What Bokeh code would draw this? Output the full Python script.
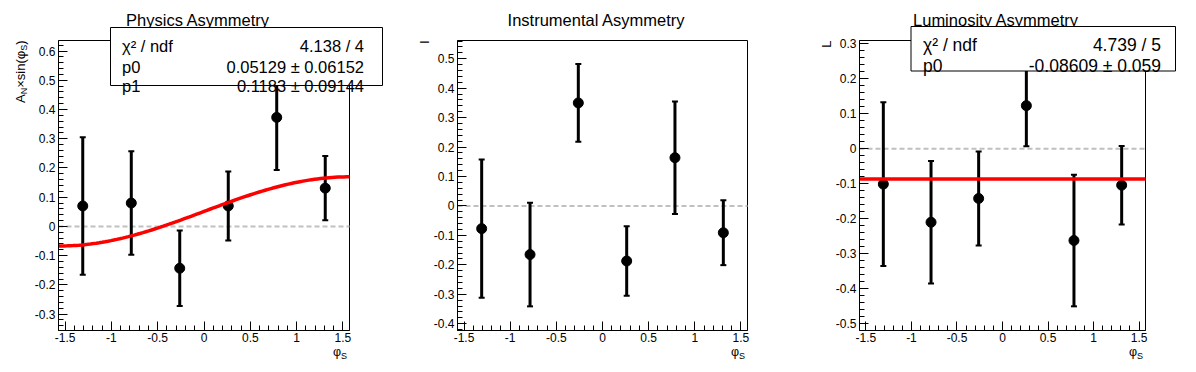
import numpy as np
from bokeh.plotting import figure
from bokeh.layouts import row
from bokeh.models import Range1d, FixedTicker, CustomJSTickFormatter, LinearAxis
from bokeh.core.properties import value
from bokeh.embed import file_html
from bokeh.resources import INLINE

# ---------------- data ----------------
phi_s = [-1.309, -0.785, -0.262, 0.262, 0.785, 1.309]

physics_asym = [0.070, 0.080, -0.143, 0.070, 0.373, 0.131]
physics_err = [0.235, 0.177, 0.129, 0.118, 0.180, 0.110]

instr_asym = [-0.077, -0.165, 0.350, -0.187, 0.164, -0.091]
instr_err = [0.235, 0.176, 0.132, 0.118, 0.191, 0.110]

lumi_asym = [-0.101, -0.210, -0.142, 0.123, -0.262, -0.104]
lumi_err = [0.234, 0.175, 0.134, 0.116, 0.188, 0.112]

physics_fit_p0 = 0.05129
physics_fit_p1 = 0.1183
lumi_fit_p0 = -0.08609

titles = ["Physics Asymmetry", "Instrumental Asymmetry", "Luminosity Asymmetry"]
y_titles = ["I", "L"]
stats_physics = [("\u03c7\u00b2 / ndf", "4.138 / 4"),
                 ("p0", "0.05129 \u00b1 0.06152"),
                 ("p1", "0.1183 \u00b1 0.09144")]
stats_lumi = [("\u03c7\u00b2 / ndf", "4.739 / 5"),
              ("p0", "-0.08609 \u00b1 0.059")]

x_major_ticks = [-1.5, -1.0, -0.5, 0.0, 0.5, 1.0, 1.5]
physics_y_ticks = [-0.3, -0.2, -0.1, 0.0, 0.1, 0.2, 0.3, 0.4, 0.5, 0.6]
instr_y_ticks = [-0.4, -0.3, -0.2, -0.1, 0.0, 0.1, 0.2, 0.3, 0.4, 0.5]
lumi_y_ticks = [-0.5, -0.4, -0.3, -0.2, -0.1, 0.0, 0.1, 0.2, 0.3]

# ---------------- layout ----------------
HALF_PI = np.pi / 2
X_RANGE = (-HALF_PI, HALF_PI)
H = 372
TOP, BOTTOM = 40, 42          # inner frame margins (px)
FRAME_H = H - TOP - BOTTOM
FONT = "Liberation Sans"

panels = [
    dict(width=399, bl=58, br=50, yr=(-0.356, 0.636), yt=physics_y_ticks),
    dict(width=399, bl=58, br=51, yr=(-0.423, 0.562), yt=instr_y_ticks),
    dict(width=398, bl=61, br=51, yr=(-0.519, 0.309), yt=lumi_y_ticks),
]
off = 0
for pn in panels:
    pn["left_abs"] = off
    pn["frame_w"] = pn["width"] - pn["bl"] - pn["br"]
    off += pn["width"]


def to_data(pn, ax, ay):
    """absolute page pixel -> data coords of panel"""
    x0, x1 = X_RANGE
    y0, y1 = pn["yr"]
    cx = ax - pn["left_abs"] - pn["bl"]
    cy = ay - TOP
    x = x0 + cx / pn["frame_w"] * (x1 - x0)
    y = y1 - cy / FRAME_H * (y1 - y0)
    return x, y


def make_fig(pn):
    W = pn["width"]
    x0, x1 = X_RANGE
    y0, y1 = pn["yr"]
    dxp = (x1 - x0) / pn["frame_w"]
    dyp = (y1 - y0) / FRAME_H
    xr = Range1d(x0 - pn["bl"] * dxp, x1 + pn["br"] * dxp)
    yr = Range1d(y0 - BOTTOM * dyp, y1 + TOP * dyp)
    p = figure(width=W, height=H, x_range=xr, y_range=yr, output_backend="svg",
               toolbar_location=None, x_axis_location=None, y_axis_location=None,
               min_border_left=0, min_border_right=0, min_border_top=0,
               min_border_bottom=0)
    p.title.visible = False
    p.grid.visible = False
    p.outline_line_color = None
    p.background_fill_color = "white"
    p.border_fill_color = "white"

    # inner frame
    p.quad(left=[x0], right=[x1], bottom=[y0], top=[y1], fill_color=None,
           line_color="black", line_width=1)
    # zero reference line
    p.segment(x0=[x0], y0=[0], x1=[x1], y1=[0], line_color="#c0c0c0",
              line_dash="5 3", line_width=2)

    x_minor = [round(v, 2) for v in np.arange(-1.5, 1.5001, 0.1)]
    y_minor = [round(v, 3) for v in np.arange(-0.6, 0.7, 0.02) if y0 <= v <= y1]
    fmt = CustomJSTickFormatter(code="return String(Number(tick.toFixed(2)));")
    xax = LinearAxis(fixed_location=y0, bounds=(x0, x1),
                     ticker=FixedTicker(ticks=x_major_ticks, minor_ticks=x_minor),
                     formatter=fmt)
    yax = LinearAxis(fixed_location=x0, bounds=(y0, y1),
                     ticker=FixedTicker(ticks=pn["yt"], minor_ticks=y_minor),
                     formatter=fmt)
    for ax in (xax, yax):
        ax.major_tick_in = 9
        ax.major_tick_out = 0
        ax.minor_tick_in = 5
        ax.minor_tick_out = 0
        ax.major_tick_line_color = "black"
        ax.minor_tick_line_color = "black"
        ax.axis_line_color = "black"
        ax.major_label_text_font = FONT
        ax.major_label_text_font_size = "12px"
        ax.major_label_text_color = "black"
    xax.major_label_standoff = 2
    yax.major_label_standoff = 3
    p.add_layout(xax, "below")
    p.add_layout(yax, "left")
    return p


def draw_points(p, ys, errs):
    lo = [y - e for y, e in zip(ys, errs)]
    hi = [y + e for y, e in zip(ys, errs)]
    p.segment(x0=phi_s, y0=lo, x1=phi_s, y1=hi, line_color="black", line_width=3)
    p.scatter(x=phi_s + phi_s, y=lo + hi, marker="dash", size=6,
              line_color="black", line_width=2)
    p.scatter(x=phi_s, y=ys, marker="circle", size=10, color="black")


def add_text(p, pn, ax, ay, text, size, align="left", angle=0.0):
    x, y = to_data(pn, ax, ay)
    p.text(x=[x], y=[y], text=[text], angle=angle, text_align=align,
           text_baseline="alphabetic", text_font=value(FONT),
           text_font_size=value(size), text_color="black")


def add_title(p, pn, text, cx):
    add_text(p, pn, cx, 19.5, text, "16.5px", "center")


def add_xlabel(p, pn):
    right = pn["left_abs"] + pn["bl"] + pn["frame_w"] - 2
    add_text(p, pn, right - 6.5, 351, "\u03c6", "12.5px", "right")
    add_text(p, pn, right - 6.5, 355, "S", "9px", "left")


def add_stats(p, pn, box, rows, lx, rx, baselines, fsize):
    bx0, by0, bx1, by1 = box
    xa, ya = to_data(pn, bx0, by0)
    xb, yb = to_data(pn, bx1, by1)
    p.quad(left=[xa], right=[xb], top=[ya], bottom=[yb], fill_color="white",
           fill_alpha=1.0, line_color="black", line_width=1)
    for (left, right), bl in zip(rows, baselines):
        add_text(p, pn, lx, bl, left, fsize, "left")
        add_text(p, pn, rx, bl, right, fsize, "right")


# ---------------- panel 1 ----------------
pn1 = panels[0]
p1 = make_fig(pn1)
draw_points(p1, physics_asym, physics_err)
fit_x = np.linspace(X_RANGE[0], X_RANGE[1], 101)
fit_y = physics_fit_p0 + physics_fit_p1 * np.sin(fit_x)
p1.line(fit_x, fit_y, line_color="#ff0000", line_width=3.5)
add_title(p1, pn1, titles[0], 197.5)
add_xlabel(p1, pn1)
# y title: A_N x sin(phi_S), composed (rotated, reading upwards)
pieces = [(")", 13, 0, 0.333), ("S", 9, 3, 0.667), ("\u00d7sin(\u03c6", 13, 0, 2.845),
          ("N", 9, 3, 0.722), ("A", 13, 0, 0.667)]
ypos = TOP
for txt, fs, shift, wem in pieces:
    add_text(p1, pn1, 20 + shift, ypos, txt, f"{fs}px", "right", HALF_PI)
    ypos += fs * wem
add_stats(p1, pn1, (110, 27, 382, 85), stats_physics, 121.5, 363.5,
          [45, 66, 85], "16.5px")

# ---------------- panel 2 ----------------
pn2 = panels[1]
p2 = make_fig(pn2)
draw_points(p2, instr_asym, instr_err)
add_title(p2, pn2, titles[1], 596)
add_xlabel(p2, pn2)
add_text(p2, pn2, 424, TOP, y_titles[0], "13px", "right", HALF_PI)

# ---------------- panel 3 ----------------
pn3 = panels[2]
p3 = make_fig(pn3)
draw_points(p3, lumi_asym, lumi_err)
p3.line([X_RANGE[0], X_RANGE[1]], [lumi_fit_p0, lumi_fit_p0],
        line_color="#ff0000", line_width=3.5)
add_title(p3, pn3, titles[2], 995.5)
add_xlabel(p3, pn3)
add_text(p3, pn3, 826, TOP, y_titles[1], "13px", "right", HALF_PI)
add_stats(p3, pn3, (910.5, 26, 1175, 70.5), stats_lumi, 922.5, 1160.5,
          [44.5, 65.5], "17.5px")

layout = row(p1, p2, p3, spacing=0)
open("out.html", "w").write(file_html(layout, INLINE))
